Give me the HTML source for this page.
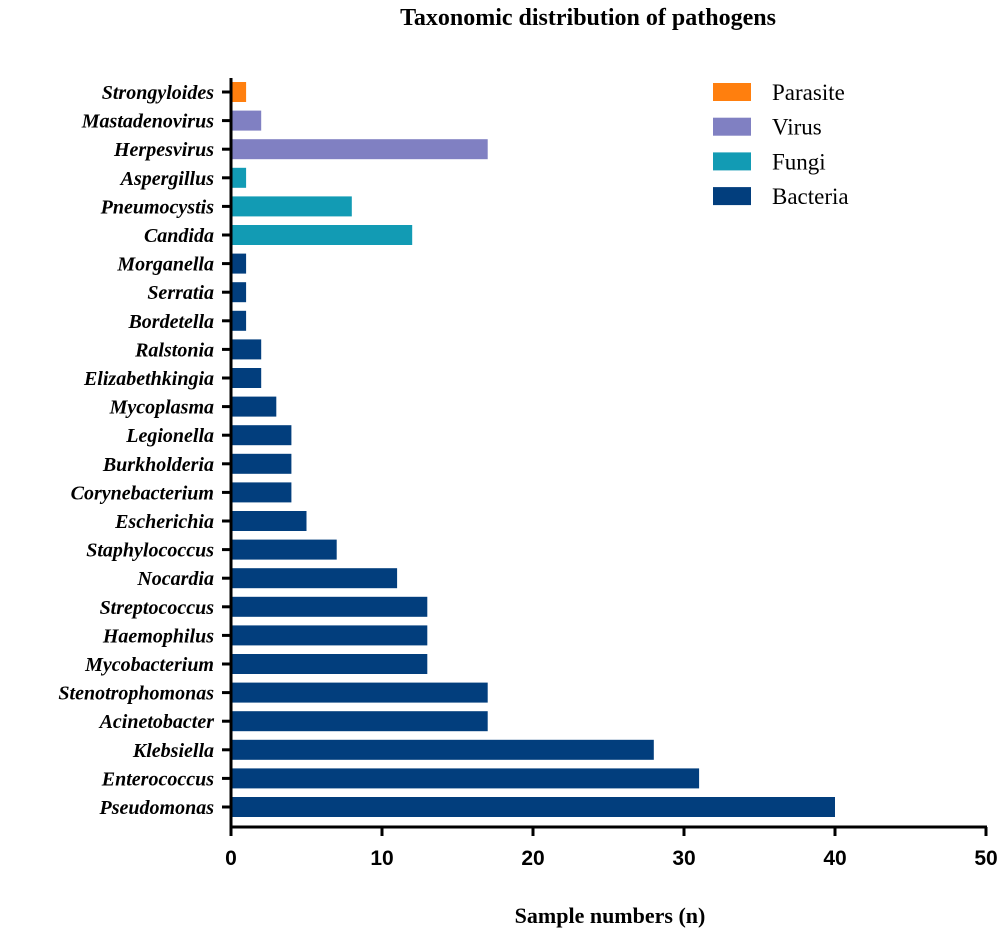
<!DOCTYPE html>
<html><head><meta charset="utf-8"><style>body{margin:0;background:#fff}svg{display:block}</style></head><body>
<svg id="c" width="1001" height="935" font-family="Liberation Serif, serif"></svg>
<script>
const categories=["Strongyloides","Mastadenovirus","Herpesvirus","Aspergillus","Pneumocystis","Candida","Morganella","Serratia","Bordetella","Ralstonia","Elizabethkingia","Mycoplasma","Legionella","Burkholderia","Corynebacterium","Escherichia","Staphylococcus","Nocardia","Streptococcus","Haemophilus","Mycobacterium","Stenotrophomonas","Acinetobacter","Klebsiella","Enterococcus","Pseudomonas"];
const values=[1,2,17,1,8,12,1,1,1,2,2,3,4,4,4,5,7,11,13,13,13,17,17,28,31,40];
const groups=["Parasite","Virus","Virus","Fungi","Fungi","Fungi","Bacteria","Bacteria","Bacteria","Bacteria","Bacteria","Bacteria","Bacteria","Bacteria","Bacteria","Bacteria","Bacteria","Bacteria","Bacteria","Bacteria","Bacteria","Bacteria","Bacteria","Bacteria","Bacteria","Bacteria"];
const legendLabels=["Parasite","Virus","Fungi","Bacteria"];
const xTicks=[0,10,20,30,40,50];
const colors={Parasite:"#ff7f0e",Virus:"#8080c2",Fungi:"#129bb4",Bacteria:"#023e7d"};
const svg=document.getElementById('c');const NS="http://www.w3.org/2000/svg";
function mk(t,a,txt){const e=document.createElementNS(NS,t);for(const k in a)e.setAttribute(k,a[k]);if(txt!=null)e.textContent=txt;svg.appendChild(e);return e;}
const x=v=>231+v*15.1;
const y=i=>92+i*28.6;
let e=mk('text',{x:588,y:25,'text-anchor':'middle','font-size':24,'font-weight':'bold'},'Taxonomic distribution of  pathogens');

categories.forEach((c,i)=>{
 const b=mk('rect',{x:x(0),y:y(i)-10,width:x(values[i])-x(0),height:20,fill:colors[groups[i]]});
 
 const tk=mk('line',{x1:222,x2:231,y1:y(i),y2:y(i),stroke:'#000','stroke-width':3});
 
 const t=mk('text',{x:214,y:y(i)+7,'text-anchor':'end','font-size':20,'font-weight':'bold','font-style':'italic'},c);
 
});
e=mk('line',{x1:231,x2:231,y1:78,y2:829,stroke:'#000','stroke-width':3});

e=mk('line',{x1:229.5,x2:987,y1:827,y2:827,stroke:'#000','stroke-width':3});

xTicks.forEach(v=>{
 const l=mk('line',{x1:x(v),x2:x(v),y1:827,y2:836,stroke:'#000','stroke-width':3});
 
 const t=mk('text',{x:x(v),y:865,'text-anchor':'middle','font-size':21,'font-weight':'bold','font-family':'Liberation Sans, sans-serif'},v);
 
});
e=mk('text',{x:610,y:923,'text-anchor':'middle','font-size':22,'font-weight':'bold'},'Sample numbers (n)');

legendLabels.forEach((g,i)=>{
 const ly=92+i*34.7;
 const r=mk('rect',{x:713,y:ly-9,width:38,height:18,fill:colors[g]});
 
 const t=mk('text',{x:772,y:ly+8,'font-size':23},g);
 
});
</script>
</body></html>
